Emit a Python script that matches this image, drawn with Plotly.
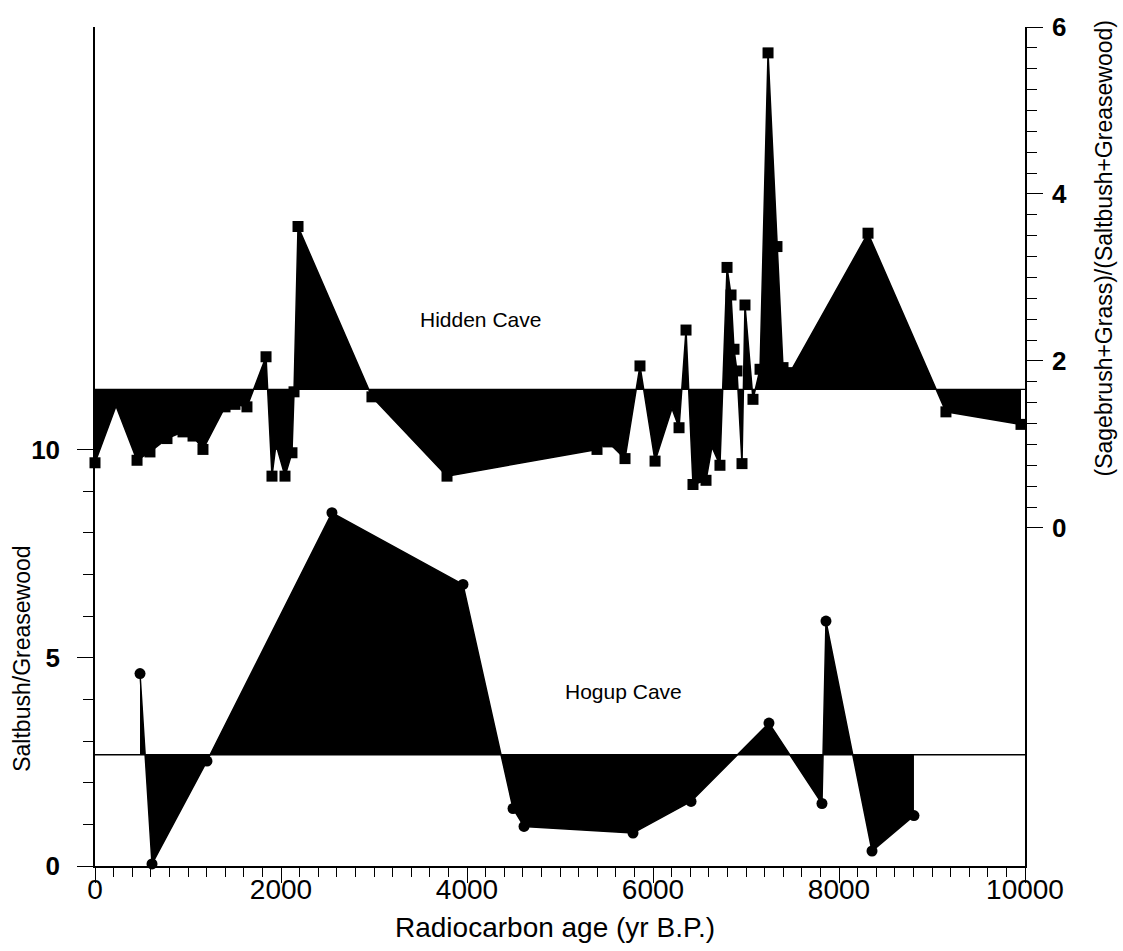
import plotly.graph_objects as go

# Hidden Cave: (Sagebrush+Grass)/(Saltbush+Greasewood), right axis
hidden_age = [0, 226, 452, 591, 774, 946, 1054, 1161, 1398, 1505, 1634, 1839,
              1903, 1946, 2043, 2118, 2140, 2183, 2978, 3785, 5398, 5516, 5699,
              5860, 6022, 6204, 6280, 6355, 6430, 6570, 6634, 6720, 6796, 6839,
              6871, 6903, 6957, 6989, 7075, 7151, 7237, 7333, 7398, 7473, 8312,
              9150, 9957]
hidden_ratio = [0.78, 1.46, 0.81, 0.91, 1.07, 1.15, 1.10, 0.94, 1.45, 1.48, 1.45, 2.05,
                0.62, 1.00, 0.62, 0.90, 1.63, 3.61, 1.57, 0.62, 0.94, 1.03, 0.83,
                1.94, 0.80, 1.43, 1.20, 2.37, 0.52, 0.57, 0.97, 0.75, 3.12, 2.79,
                2.14, 1.88, 0.77, 2.67, 1.54, 1.90, 5.69, 3.37, 1.92, 1.86, 3.53,
                1.39, 1.24]
hidden_bare = [226, 6204, 6634]   # vertices plotted without a marker
HIDDEN_BASE = 1.66

# Hogup Cave: Saltbush/Greasewood, left axis
hogup_age = [484, 613, 1204, 2548, 3957, 4495, 4613, 5785, 6409, 7247, 7817,
             7860, 8355, 8806]
hogup_ratio = [4.62, 0.05, 2.52, 8.48, 6.76, 1.38, 0.95, 0.79, 1.55, 3.43, 1.50,
               5.88, 0.36, 1.21]
HOGUP_BASE = 2.67

X_MIN, X_MAX = 0, 10000
x_major = [0, 2000, 4000, 6000, 8000, 10000]
x_labels = ["0", "2000", "4000", "6000", "8000", "10000"]
x_minor = list(range(0, 10001, 200))
left_major = [0, 5, 10]
left_minor = list(range(0, 11))
right_major = [0, 2, 4, 6]
right_minor = [i * 0.25 for i in range(0, 25)]

FONT = "Liberation Sans, Arial, sans-serif"
INK = "black"

fig = go.Figure()

# Hogup Cave: filled between the series and its reference level
fig.add_trace(go.Scatter(x=[hogup_age[0], hogup_age[-1]], y=[HOGUP_BASE] * 2,
                         mode="lines", line=dict(width=0, color=INK),
                         yaxis="y", showlegend=False, hoverinfo="skip"))
fig.add_trace(go.Scatter(x=hogup_age, y=hogup_ratio, mode="lines+markers",
                         fill="tonexty", fillcolor=INK,
                         line=dict(color=INK, width=1.5),
                         marker=dict(symbol="circle", size=11, color=INK),
                         yaxis="y", showlegend=False, cliponaxis=False))
fig.add_trace(go.Scatter(x=[X_MIN, X_MAX], y=[HOGUP_BASE] * 2, mode="lines",
                         line=dict(color=INK, width=1.3), yaxis="y",
                         showlegend=False, hoverinfo="skip"))

# Hidden Cave
fig.add_trace(go.Scatter(x=[hidden_age[0], hidden_age[-1]], y=[HIDDEN_BASE] * 2,
                         mode="lines", line=dict(width=0, color=INK),
                         yaxis="y2", showlegend=False, hoverinfo="skip"))
fig.add_trace(go.Scatter(x=hidden_age, y=hidden_ratio, mode="lines",
                         fill="tonexty", fillcolor=INK,
                         line=dict(color=INK, width=1.5),
                         yaxis="y2", showlegend=False))
marked = [(a, r) for a, r in zip(hidden_age, hidden_ratio) if a not in hidden_bare]
fig.add_trace(go.Scatter(x=[a for a, _ in marked], y=[r for _, r in marked],
                         mode="markers",
                         marker=dict(symbol="square", size=11, color=INK),
                         yaxis="y2", showlegend=False, cliponaxis=False))
fig.add_trace(go.Scatter(x=[X_MIN, X_MAX], y=[HIDDEN_BASE] * 2, mode="lines",
                         line=dict(color=INK, width=1.3), yaxis="y2",
                         showlegend=False, hoverinfo="skip"))

axis_common = dict(showline=True, linecolor=INK, linewidth=1.5, ticks="outside",
                   tickcolor=INK, tickwidth=1.3, showgrid=False, zeroline=False)

fig.update_layout(
    width=1123, height=951, autosize=False,
    margin=dict(l=95, r=98, t=20, b=85),
    paper_bgcolor="white", plot_bgcolor="white",
    font=dict(family=FONT, color=INK),
    xaxis=dict(range=[X_MIN, X_MAX], tickvals=x_major, ticktext=x_labels,
               ticklen=15, tickfont=dict(size=28), ticklabelstandoff=-17,
               minor=dict(tickvals=x_minor, ticklen=9, ticks="outside",
                          tickcolor=INK, tickwidth=1.2),
               **axis_common),
    yaxis=dict(range=[0, 20.14], tickvals=left_major, ticklen=16,
               tickfont=dict(size=26, weight="bold"), ticklabelstandoff=12,
               minor=dict(tickvals=left_minor, ticklen=10, ticks="outside",
                          tickcolor=INK, tickwidth=1.2),
               **axis_common),
    yaxis2=dict(range=[-4.05, 6], overlaying="y", side="right",
                tickvals=right_major, ticklen=16,
                tickfont=dict(size=26, weight="bold"), ticklabelstandoff=4,
                minor=dict(tickvals=right_minor, ticklen=10, ticks="outside",
                           tickcolor=INK, tickwidth=1.2),
                **axis_common),
    annotations=[
        dict(text="Hidden Cave", x=4140, y=2.50, xref="x", yref="y2",
             showarrow=False, font=dict(size=21)),
        dict(text="Hogup Cave", x=5688, y=4.19, xref="x", yref="y",
             showarrow=False, font=dict(size=21)),
        dict(text="Radiocarbon age (yr B.P.)", x=0.495, y=-0.073,
             xref="paper", yref="paper", xanchor="center", yanchor="middle",
             showarrow=False, font=dict(size=28)),
        dict(text="Saltbush/Greasewood", x=-0.0785, y=0.247, xref="paper",
             yref="paper", xanchor="center", yanchor="middle",
             showarrow=False, textangle=-90, font=dict(size=23)),
        dict(text="(Sagebrush+Grass)/(Saltbush+Greasewood)", x=1.086, y=0.736,
             xref="paper", yref="paper", xanchor="center", yanchor="middle",
             showarrow=False, textangle=-90, font=dict(size=23)),
    ],
)

fig.write_html("out.html")
